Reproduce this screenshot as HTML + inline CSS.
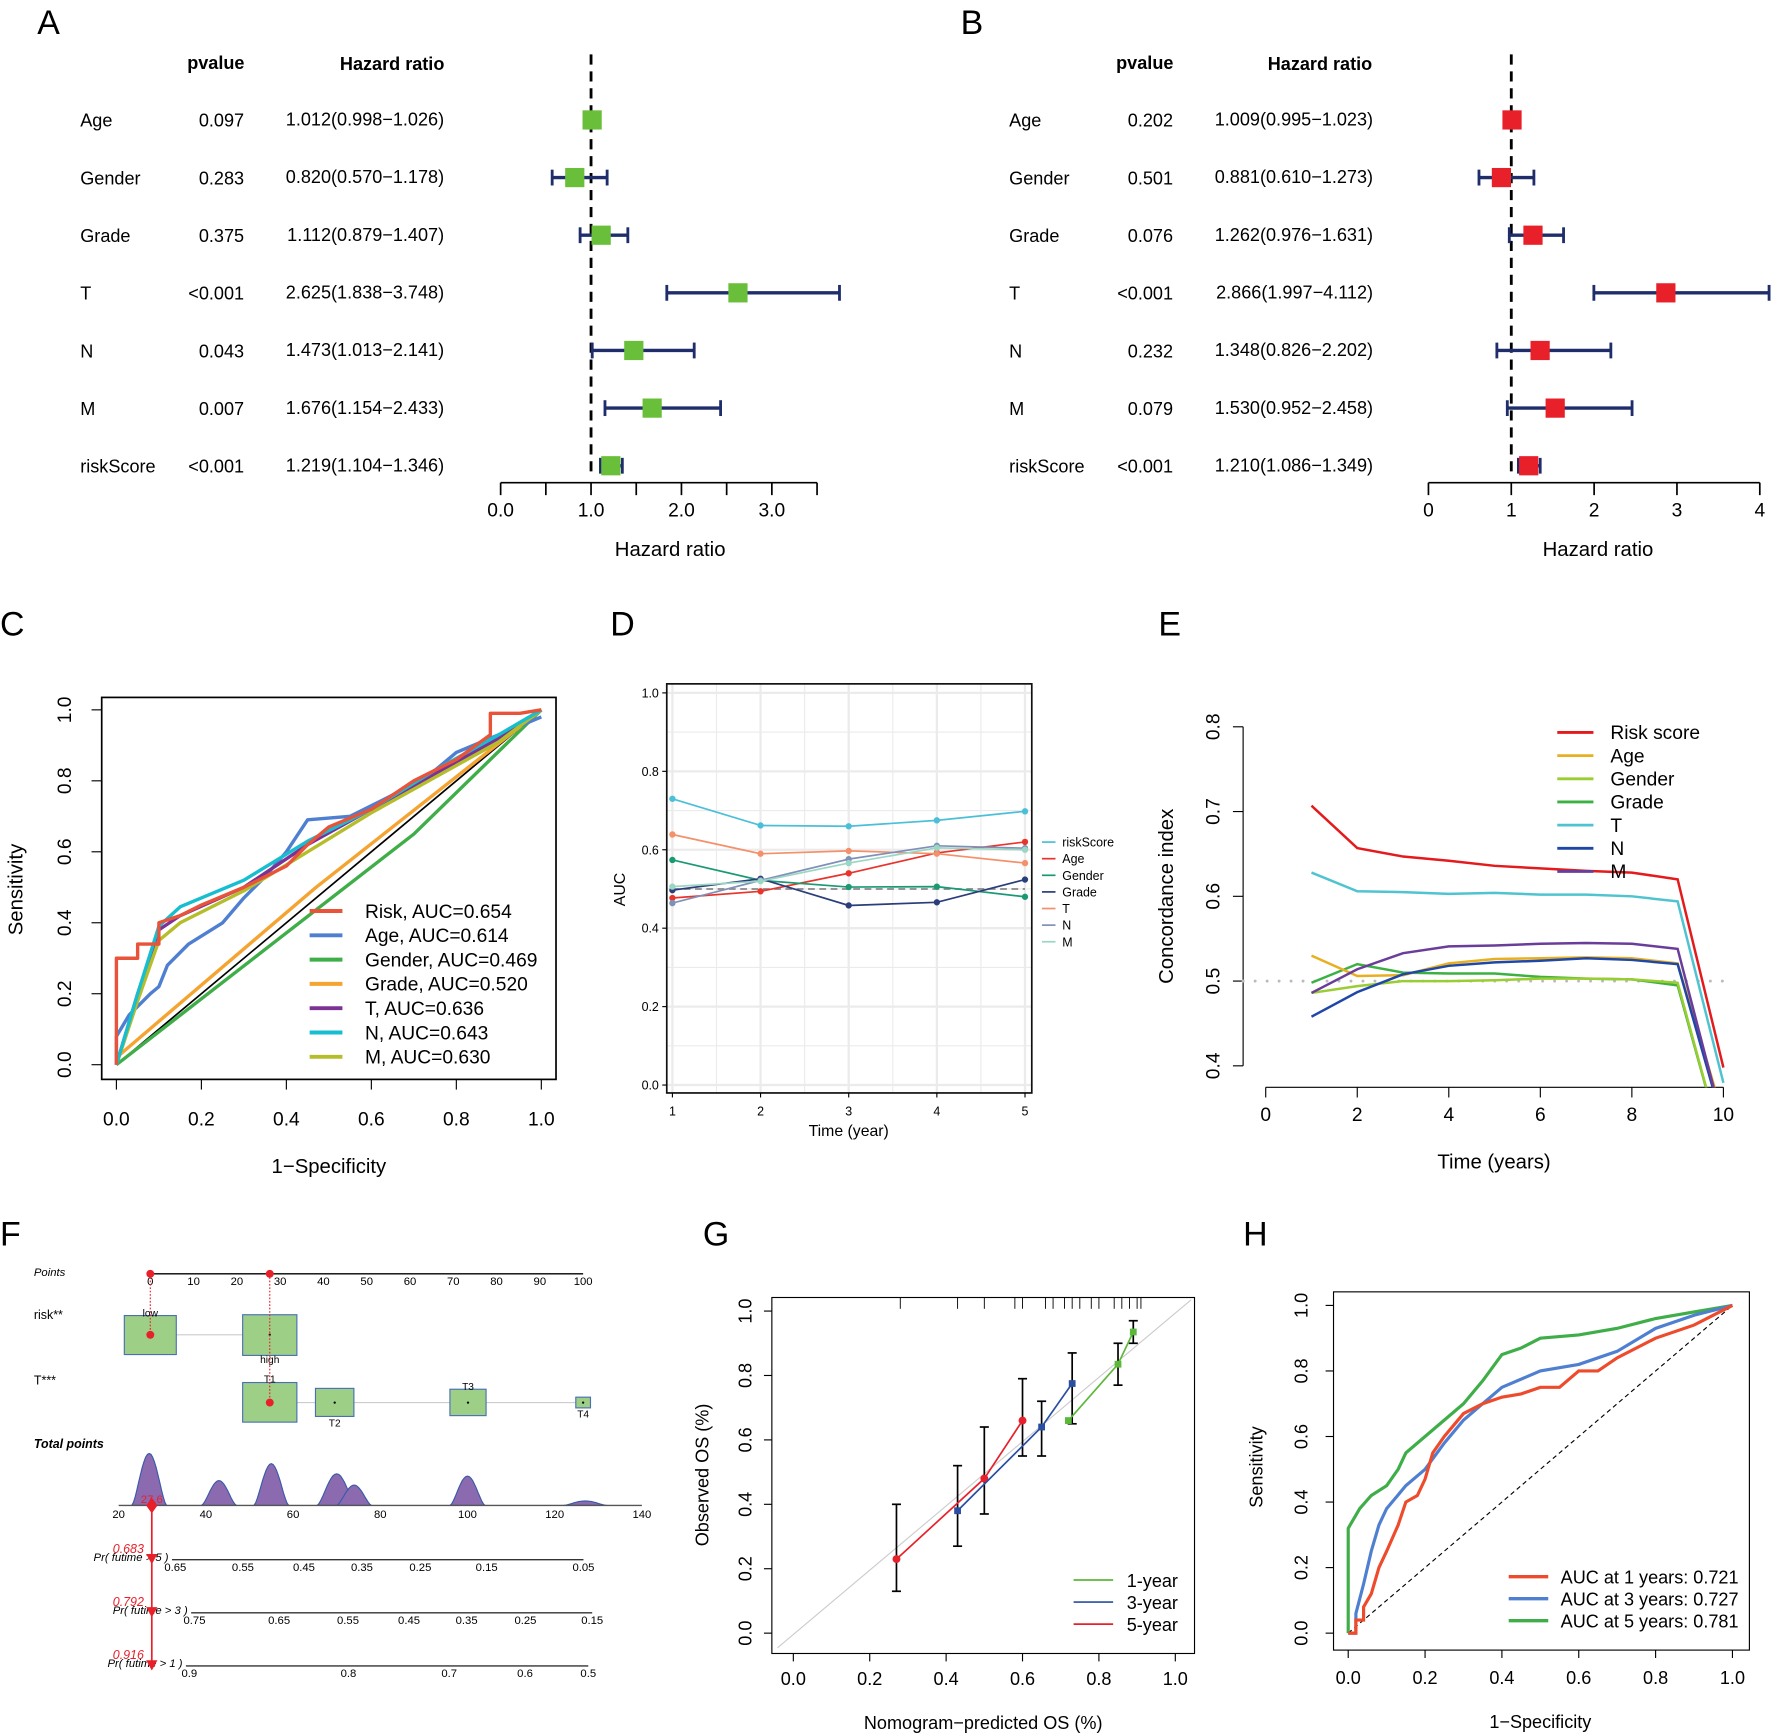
<!DOCTYPE html>
<html><head><meta charset="utf-8"><style>
html,body{margin:0;padding:0;background:#fff}
svg{display:block;font-family:"Liberation Sans",Arial,sans-serif}
</style></head><body>
<svg id="fig" width="1772" height="1735" viewBox="0 0 1568 1535" xmlns="http://www.w3.org/2000/svg">
<defs>
<clipPath id="clipE"><rect x="1090" y="600" width="478" height="362"/></clipPath>
<clipPath id="clipB"><rect x="1240" y="40" width="328" height="400"/></clipPath>
</defs>
<g font-size="30">
<text x="33" y="30">A</text>
<text x="850" y="30">B</text>
<text x="0" y="562">C</text>
<text x="540" y="562">D</text>
<text x="1025" y="562">E</text>
<text x="0" y="1102">F</text>
<text x="622" y="1102">G</text>
<text x="1100" y="1102">H</text>
</g>
<g id="pA"></g>
<g id="pB"></g>
<g id="pC"></g>
<g id="pD"></g>
<g id="pE"></g>
<g id="pF"></g>
<g id="pG"></g>
<g id="pH"></g>
</svg>
<script>
// ---------- data ----------
const forestVars = ["Age","Gender","Grade","T","N","M","riskScore"];
const forestAP = ["0.097","0.283","0.375","<0.001","0.043","0.007","<0.001"];
const forestAHR = [1.012,0.820,1.112,2.625,1.473,1.676,1.219];
const forestALo = [0.998,0.570,0.879,1.838,1.013,1.154,1.104];
const forestAHi = [1.026,1.178,1.407,3.748,2.141,2.433,1.346];
const forestBP = ["0.202","0.501","0.076","<0.001","0.232","0.079","<0.001"];
const forestBHR = [1.009,0.881,1.262,2.866,1.348,1.530,1.210];
const forestBLo = [0.995,0.610,0.976,1.997,0.826,0.952,1.086];
const forestBHi = [1.023,1.273,1.631,4.112,2.202,2.458,1.349];
const forestATicks = [0,0.5,1,1.5,2,2.5,3,3.5];
const forestATickLabels = ["0.0","1.0","2.0","3.0"];
const forestBTicks = [0,1,2,3,4];

const rocCNames = ["Risk, AUC=0.654","Age, AUC=0.614","Gender, AUC=0.469","Grade, AUC=0.520","T, AUC=0.636","N, AUC=0.643","M, AUC=0.630"];
const rocCRiskX = [0,0,0.05,0.05,0.1,0.1,0.15,0.2,0.3,0.4,0.45,0.5,0.6,0.7,0.8,0.88,0.88,0.95,1];
const rocCRiskY = [0,0.3,0.3,0.34,0.34,0.4,0.42,0.45,0.5,0.56,0.62,0.67,0.72,0.8,0.86,0.93,0.99,0.99,1];
const rocCAgeX = [0,0,0.03,0.08,0.1,0.12,0.17,0.25,0.3,0.35,0.4,0.45,0.55,0.65,0.75,0.8,0.9,1];
const rocCAgeY = [0,0.08,0.14,0.2,0.22,0.28,0.34,0.4,0.47,0.53,0.6,0.69,0.7,0.76,0.83,0.88,0.93,0.98];
const rocCGenderX = [0,0.7,1];
const rocCGenderY = [0,0.65,1];
const rocCGradeX = [0,0.47,1];
const rocCGradeY = [0.02,0.5,1];
const rocCTX = [0,0.05,0.1,0.15,0.3,0.45,0.6,0.75,0.9,1];
const rocCTY = [0,0.2,0.38,0.42,0.5,0.62,0.72,0.82,0.92,1];
const rocCNX = [0,0.05,0.1,0.15,0.3,0.45,0.6,0.75,0.9,1];
const rocCNY = [0,0.2,0.39,0.445,0.52,0.63,0.72,0.83,0.93,1];
const rocCMX = [0,0.05,0.1,0.15,0.3,0.45,0.6,0.75,0.9,1];
const rocCMY = [0,0.18,0.35,0.4,0.49,0.6,0.71,0.81,0.91,1];
const rocCTicks = [0,0.2,0.4,0.6,0.8,1.0];
const rocCTickLabels = ["0.0","0.2","0.4","0.6","0.8","1.0"];

const aucYears = [1,2,3,4,5];
const aucNames = ["riskScore","Age","Gender","Grade","T","N","M"];
const aucRisk = [0.73,0.662,0.660,0.675,0.698];
const aucAge = [0.477,0.494,0.540,0.592,0.620];
const aucGender = [0.574,0.522,0.505,0.506,0.480];
const aucGrade = [0.497,0.526,0.458,0.466,0.524];
const aucT = [0.639,0.590,0.597,0.590,0.566];
const aucN = [0.464,0.522,0.576,0.610,0.604];
const aucM = [0.506,0.520,0.566,0.605,0.600];
const aucYTicks = [0,0.2,0.4,0.6,0.8,1.0];
const aucYTickLabels = ["0.0","0.2","0.4","0.6","0.8","1.0"];

const ciTimes = [1,2,3,4,5,6,7,8,9,10];
const ciNames = ["Risk score","Age","Gender","Grade","T","N","M"];
const ciRisk = [0.707,0.657,0.647,0.642,0.636,0.633,0.630,0.628,0.620,0.398];
const ciAge = [0.530,0.506,0.507,0.521,0.526,0.527,0.528,0.527,0.521,0.34];
const ciGender = [0.486,0.494,0.500,0.500,0.501,0.503,0.503,0.502,0.498,0.30];
const ciGrade = [0.498,0.520,0.510,0.509,0.509,0.505,0.503,0.502,0.495,0.30];
const ciT = [0.628,0.606,0.605,0.603,0.604,0.602,0.602,0.600,0.594,0.38];
const ciN = [0.458,0.487,0.508,0.518,0.522,0.524,0.527,0.525,0.520,0.33];
const ciM = [0.486,0.514,0.533,0.541,0.542,0.544,0.545,0.544,0.538,0.33];
const ciXTicks = [0,2,4,6,8,10];
const ciYTicks = [0.4,0.5,0.6,0.7,0.8];

const nomoPointTicks = [0,10,20,30,40,50,60,70,80,90,100];
const nomoRiskLevels = ["low","high"];
const nomoRiskPts = [0,27.6];
const nomoRiskSize = [46,48];
const nomoTLevels = ["T1","T2","T3","T4"];
const nomoTPts = [27.6,42.6,73.4,100];
const nomoTSize = [48,34,32,13];
const nomoTotalTicks = [20,40,60,80,100,120,140];
const nomoDensCenters = [27,43,55,70,74,100,127];
const nomoDensHeights = [46,22,37,28,18,26,4];
const nomoDensWidths = [4,4,4,4.5,4,4,5];
const nomoTotal = 27.6;
const nomoPr5Labels = ["0.65","0.55","0.45","0.35","0.25","0.15","0.05"];
const nomoPr5Pts = [33,48.5,62.5,75.8,89.2,104.4,126.6];
const nomoPr3Labels = ["0.75","0.65","0.55","0.45","0.35","0.25","0.15"];
const nomoPr3Pts = [37.4,56.8,72.6,86.6,99.8,113.3,128.6];
const nomoPr1Labels = ["0.9","0.8","0.7","0.6","0.5"];
const nomoPr1Pts = [36.2,72.7,95.8,113.2,127.7];
const nomoPrTexts = ["0.683","0.792","0.916"];

const calNames = ["1-year","3-year","5-year"];
const cal1X = [0.72,0.85,0.89];
const cal1Y = [0.66,0.835,0.935];
const cal3X = [0.43,0.65,0.73];
const cal3Y = [0.38,0.64,0.775];
const cal5X = [0.27,0.50,0.60];
const cal5Y = [0.23,0.48,0.66];
const calErrX = [0.27,0.43,0.50,0.60,0.65,0.73,0.85,0.89];
const calErrLo = [0.13,0.27,0.37,0.55,0.55,0.65,0.77,0.90];
const calErrHi = [0.40,0.52,0.64,0.79,0.72,0.87,0.90,0.97];
const calRug = [0.28,0.43,0.5,0.58,0.6,0.66,0.68,0.71,0.73,0.75,0.78,0.8,0.84,0.86,0.88,0.9,0.91];
const calTicks = [0,0.2,0.4,0.6,0.8,1.0];
const calTickLabels = ["0.0","0.2","0.4","0.6","0.8","1.0"];

const rocHNames = ["AUC at 1 years: 0.721","AUC at 3 years: 0.727","AUC at 5 years: 0.781"];
const rocH1X = [0,0.02,0.02,0.04,0.04,0.06,0.08,0.1,0.13,0.15,0.18,0.2,0.22,0.25,0.3,0.35,0.4,0.45,0.5,0.55,0.6,0.65,0.7,0.8,0.9,1];
const rocH1Y = [0,0,0.04,0.04,0.08,0.12,0.2,0.25,0.33,0.4,0.42,0.47,0.55,0.6,0.67,0.7,0.72,0.73,0.75,0.75,0.8,0.8,0.84,0.9,0.94,1];
const rocH3X = [0,0.02,0.02,0.04,0.06,0.08,0.1,0.15,0.2,0.25,0.3,0.35,0.4,0.5,0.6,0.7,0.8,0.9,1];
const rocH3Y = [0,0,0.06,0.15,0.25,0.33,0.38,0.45,0.5,0.58,0.65,0.7,0.75,0.8,0.82,0.86,0.93,0.97,1];
const rocH5X = [0,0,0.03,0.06,0.1,0.13,0.15,0.2,0.25,0.3,0.35,0.4,0.45,0.5,0.6,0.7,0.8,0.9,1];
const rocH5Y = [0,0.32,0.38,0.42,0.45,0.5,0.55,0.6,0.65,0.7,0.77,0.85,0.87,0.9,0.91,0.93,0.96,0.98,1];

// ---------- helpers ----------
const NS="http://www.w3.org/2000/svg";
function mk(parent,tag,attrs,txt){const e=document.createElementNS(NS,tag);for(const k in attrs)e.setAttribute(k,attrs[k]);if(txt!==undefined)e.textContent=txt;parent.appendChild(e);return e;}
function lin(d0,d1,r0,r1){return v=>r0+(v-d0)*(r1-r0)/(d1-d0);}
function pts(xs,ys,sx,sy){return xs.map((x,i)=>sx(x).toFixed(1)+","+sy(ys[i]).toFixed(1)).join(" ");}

// ---------- forest plots ----------
function forest(g,o){
  const sx=lin(0,1,o.x0,o.x0+o.unit);
  const rowY=i=>106+i*51;
  let e;
  e=mk(g,"text",{x:o.pc,y:61,"text-anchor":"middle","font-size":16,"font-weight":"bold"},"pvalue");
  
  
  e=mk(g,"text",{x:o.hc,y:62,"text-anchor":"middle","font-size":16,"font-weight":"bold"},"Hazard ratio");
  
  
  e=mk(g,"line",{x1:sx(1),y1:48,x2:sx(1),y2:420,stroke:"#000","stroke-width":2.5,"stroke-dasharray":"9,6"});
  
  
  forestVars.forEach((v,i)=>{
    const y=rowY(i);
    let t=mk(g,"text",{x:o.lx,y:y+6,"font-size":16},v);
    
    
    t=mk(g,"text",{x:o.pr,y:y+6,"text-anchor":"end","font-size":16},o.p[i]);
    
    
    t=mk(g,"text",{x:o.hr,y:y+5,"text-anchor":"end","font-size":16},o.hrv[i].toFixed(3)+"("+o.lo[i].toFixed(3)+"\u2212"+o.hi[i].toFixed(3)+")");
    
    
    const cg=mk(g,"g",{"clip-path":o.clip||""});
    let l=mk(cg,"line",{x1:sx(o.lo[i]),y1:y,x2:sx(o.hi[i]),y2:y,stroke:"#1f2d6b","stroke-width":3});
    
    
    l=mk(cg,"line",{x1:sx(o.lo[i]),y1:y-7,x2:sx(o.lo[i]),y2:y+7,stroke:"#1f2d6b","stroke-width":2.5});
    
    
    l=mk(cg,"line",{x1:sx(o.hi[i]),y1:y-7,x2:sx(o.hi[i]),y2:y+7,stroke:"#1f2d6b","stroke-width":2.5});
    
    
    const r=mk(g,"rect",{x:sx(o.hrv[i])-8.5,y:y-8.5,width:17,height:17,fill:o.col});
    
    
  });
  e=mk(g,"line",{x1:sx(o.ticks[0]),y1:427,x2:sx(o.ticks[o.ticks.length-1]),y2:427,stroke:"#000","stroke-width":1.5});
  
  
  o.ticks.forEach(tk=>{
    const l=mk(g,"line",{x1:sx(tk),y1:427,x2:sx(tk),y2:438,stroke:"#000","stroke-width":1.5});
    
    
  });
  o.labels.forEach((lb,i)=>{
    const t=mk(g,"text",{x:sx(o.labVals[i]),y:457,"text-anchor":"middle","font-size":17},lb);
    
    
  });
  e=mk(g,"text",{x:o.titleX,y:492,"text-anchor":"middle","font-size":18},"Hazard ratio");
  
  
}
forest(document.getElementById("pA"),{x0:443,unit:80,lx:71,pc:191,pr:216,hc:347,hr:393,p:forestAP,hrv:forestAHR,lo:forestALo,hi:forestAHi,col:"#6abf3a",ticks:forestATicks,labels:forestATickLabels,labVals:[0,1,2,3],titleX:593});
forest(document.getElementById("pB"),{x0:1264,unit:73.3,lx:893,pc:1013,pr:1038,hc:1168,hr:1215,p:forestBP,hrv:forestBHR,lo:forestBLo,hi:forestBHi,col:"#e8202a",ticks:forestBTicks,labels:forestBTicks.map(String),labVals:forestBTicks,titleX:1414,clip:"url(#clipB)"});

// ---------- C: ROC ----------
(function(){
  const g=document.getElementById("pC");
  const sx=lin(0,1,103,479), sy=lin(0,1,942,628);
  let e=mk(g,"rect",{x:90,y:617,width:402,height:338,fill:"none",stroke:"#000","stroke-width":1.5});
  
  
  rocCTicks.forEach((tk,i)=>{
    let l=mk(g,"line",{x1:sx(tk),y1:955,x2:sx(tk),y2:964,stroke:"#000"});
    
    
    let t=mk(g,"text",{x:sx(tk),y:996,"text-anchor":"middle","font-size":17},rocCTickLabels[i]);
    
    
    l=mk(g,"line",{x1:81,y1:sy(tk),x2:90,y2:sy(tk),stroke:"#000"});
    
    
    t=mk(g,"text",{x:63,y:sy(tk),"text-anchor":"middle","font-size":17,transform:`rotate(-90 63 ${sy(tk)})`},rocCTickLabels[i]);
    
    
  });
  e=mk(g,"text",{x:291,y:1038,"text-anchor":"middle","font-size":18},"1\u2212Specificity");
  
  
  e=mk(g,"text",{x:20,y:787,"text-anchor":"middle","font-size":18,transform:"rotate(-90 20 787)"},"Sensitivity");
  
  
  e=mk(g,"line",{x1:sx(0),y1:sy(0),x2:sx(1),y2:sy(1),stroke:"#000","stroke-width":1.5});
  
  
  const cols=["#e8533a","#4f7fd0","#3fae49","#f5a431","#7b3294","#17becf","#b5bd2a"];
  const xs=[rocCRiskX,rocCAgeX,rocCGenderX,rocCGradeX,rocCTX,rocCNX,rocCMX];
  const ys=[rocCRiskY,rocCAgeY,rocCGenderY,rocCGradeY,rocCTY,rocCNY,rocCMY];
  const order=[2,3,1,4,6,5,0];
  order.forEach(i=>{
    const p=mk(g,"polyline",{points:pts(xs[i],ys[i],sx,sy),fill:"none",stroke:cols[i],"stroke-width":3,"stroke-linejoin":"round"});
    
    
  });
  rocCNames.forEach((n,i)=>{
    const y=806+i*21.5;
    const l=mk(g,"line",{x1:274,y1:y,x2:303,y2:y,stroke:cols[i],"stroke-width":3.5});
    
    
    const t=mk(g,"text",{x:323,y:y+6,"font-size":17},n);
    
    
  });
})();

// ---------- D: AUC over time ----------
(function(){
  const g=document.getElementById("pD");
  const sx=lin(1,5,595,907), sy=lin(0,1,960,613);
  let e;
  for(let v=0;v<=1.001;v+=0.1){const l=mk(g,"line",{x1:590,y1:sy(v),x2:913,y2:sy(v),stroke:"#ebebeb","stroke-width":Math.round(v*10)%2?1:2});}
  for(let v=1;v<=5.01;v+=0.5){const l=mk(g,"line",{x1:sx(v),y1:605,x2:sx(v),y2:967,stroke:"#ebebeb","stroke-width":v%1?1:2});}
  e=mk(g,"rect",{x:590,y:605,width:323,height:362,fill:"none",stroke:"#111","stroke-width":1.5});
  
  
  aucYTicks.forEach((tk,i)=>{
    const l=mk(g,"line",{x1:586,y1:sy(tk),x2:590,y2:sy(tk),stroke:"#000"});
    
    
    const t=mk(g,"text",{x:583,y:sy(tk)+4,"text-anchor":"end","font-size":11},aucYTickLabels[i]);
    
    
  });
  aucYears.forEach(yr=>{
    const l=mk(g,"line",{x1:sx(yr),y1:967,x2:sx(yr),y2:971,stroke:"#000"});
    
    
    const t=mk(g,"text",{x:sx(yr),y:987,"text-anchor":"middle","font-size":11},String(yr));
    
    
  });
  e=mk(g,"text",{x:751,y:1005,"text-anchor":"middle","font-size":14},"Time (year)");
  
  
  e=mk(g,"text",{x:553,y:787,"text-anchor":"middle","font-size":14,transform:"rotate(-90 553 787)"},"AUC");
  
  
  e=mk(g,"line",{x1:595,y1:sy(0.5),x2:907,y2:sy(0.5),stroke:"#888","stroke-width":1.5,"stroke-dasharray":"6,4"});
  
  
  const cols=["#4bbfd8","#e8342a","#1a9a74","#2b3d7a","#f4906a","#8090b8","#9ad6c4"];
  const series=[aucRisk,aucAge,aucGender,aucGrade,aucT,aucN,aucM];
  series.forEach((s,i)=>{
    const p=mk(g,"polyline",{points:pts(aucYears,s,sx,sy),fill:"none",stroke:cols[i],"stroke-width":1.5});
    
    
    s.forEach((v,j)=>{
      const c=mk(g,"circle",{cx:sx(aucYears[j]),cy:sy(v),r:2.8,fill:cols[i]});
      
      
    });
  });
  aucNames.forEach((n,i)=>{
    const y=745+i*14.7;
    const l=mk(g,"line",{x1:922,y1:y,x2:934,y2:y,stroke:cols[i],"stroke-width":1.5});
    
    
    const t=mk(g,"text",{x:940,y:y+4,"font-size":11},n);
    
    
  });
})();

// ---------- E: C-index ----------
(function(){
  const g=document.getElementById("pE");
  const sx=lin(0,10,1120,1525), sy=lin(0.4,0.8,943,643);
  let e=mk(g,"line",{x1:1100,y1:sy(0.4),x2:1100,y2:sy(0.8),stroke:"#000"});
  
  
  ciYTicks.forEach(tk=>{
    const l=mk(g,"line",{x1:1091,y1:sy(tk),x2:1100,y2:sy(tk),stroke:"#000"});
    
    
    const t=mk(g,"text",{x:1079,y:sy(tk),"text-anchor":"middle","font-size":17,transform:`rotate(-90 1079 ${sy(tk)})`},tk.toFixed(1));
    
    
  });
  e=mk(g,"line",{x1:sx(0),y1:962,x2:sx(10),y2:962,stroke:"#000"});
  
  
  ciXTicks.forEach(tk=>{
    const l=mk(g,"line",{x1:sx(tk),y1:962,x2:sx(tk),y2:971,stroke:"#000"});
    
    
    const t=mk(g,"text",{x:sx(tk),y:992,"text-anchor":"middle","font-size":17},String(tk));
    
    
  });
  e=mk(g,"text",{x:1322,y:1034,"text-anchor":"middle","font-size":18},"Time (years)");
  
  
  e=mk(g,"text",{x:1038,y:793,"text-anchor":"middle","font-size":18,transform:"rotate(-90 1038 793)"},"Concordance index");
  
  
  e=mk(g,"line",{x1:1100,y1:sy(0.5),x2:1525,y2:sy(0.5),stroke:"#bbb","stroke-width":2.5,"stroke-dasharray":"0.1,10.5","stroke-linecap":"round"});
  
  
  const cols=["#e41a1c","#e8b020","#9acd32","#3cb043","#4fc4d0","#1f47a8","#6a3d9a"];
  const series=[ciRisk,ciAge,ciGender,ciGrade,ciT,ciN,ciM];
  const cg=mk(g,"g",{"clip-path":"url(#clipE)"});
  [3,2,1,5,6,4,0].forEach(i=>{
    const p=mk(cg,"polyline",{points:pts(ciTimes,series[i],sx,sy),fill:"none",stroke:cols[i],"stroke-width":2.2});
    
    
  });
  ciNames.forEach((n,i)=>{
    const y=648+i*20.5;
    const l=mk(g,"line",{x1:1378,y1:y,x2:1410,y2:y,stroke:cols[i],"stroke-width":2.5});
    
    
    const t=mk(g,"text",{x:1425,y:y+6,"font-size":17},n);
    
    
  });
})();

// ---------- F: nomogram ----------
(function(){
  const g=document.getElementById("pF");
  const px=lin(0,100,133,516), tx=lin(20,140,105,568);
  let e;
  const lbl=(x,y,s,fs,extra)=>{const t=mk(g,"text",Object.assign({x:x,y:y,"font-size":fs},extra||{}),s);return t;};
  e=lbl(30,1129,"Points",10,{"font-style":"italic"});
  
  
  e=mk(g,"line",{x1:px(0),y1:1127,x2:px(100),y2:1127,stroke:"#000","stroke-width":1.2});
  
  
  nomoPointTicks.forEach(tk=>{
    const t=lbl(px(tk),1137,String(tk),10,{"text-anchor":"middle"});
    
    
  });
  e=lbl(30,1167,"risk**",11);
  
  
  e=lbl(30,1225,"T***",11);
  
  
  e=lbl(30,1281,"Total points",11,{"font-style":"italic","font-weight":"bold"});
  
  
  // risk row
  e=mk(g,"line",{x1:px(nomoRiskPts[0]),y1:1181,x2:px(nomoRiskPts[1]),y2:1181,stroke:"#ccc"});
  
  
  nomoRiskLevels.forEach((lv,i)=>{
    const cx=px(nomoRiskPts[i]), s=nomoRiskSize[i];
    const r=mk(g,"rect",{x:cx-s/2,y:1181-s*0.37,width:s,height:s*0.75,fill:"#9ecf86",stroke:"#4a6fb5","stroke-width":1});
    
    
    const t=lbl(cx,i===0?1165:1206,lv,9,{"text-anchor":"middle"});
    
    
    const c=mk(g,"circle",{cx:cx,cy:1181,r:1,fill:"#000"});
    
    
  });
  // T row
  e=mk(g,"line",{x1:px(nomoTPts[0]),y1:1241,x2:px(nomoTPts[3]),y2:1241,stroke:"#ccc"});
  
  
  nomoTLevels.forEach((lv,i)=>{
    const cx=px(nomoTPts[i]), s=nomoTSize[i];
    const r=mk(g,"rect",{x:cx-s/2,y:1241-s*0.37,width:s,height:s*0.73,fill:"#9ecf86",stroke:"#4a6fb5","stroke-width":1});
    
    
    const ly=[1223,1262,1230,1254][i];
    const t=lbl(cx,ly,lv,9,{"text-anchor":"middle"});
    
    
    const c=mk(g,"circle",{cx:cx,cy:1241,r:1,fill:"#000"});
    
    
  });
  // selected markers
  [[px(0),1181],[px(27.6),1241]].forEach(([x,y])=>{
    const l=mk(g,"line",{x1:x,y1:1127,x2:x,y2:y,stroke:"#e8202a","stroke-dasharray":"1.5,1.5"});
    
    
    let c=mk(g,"circle",{cx:x,cy:1127,r:3.5,fill:"#e8202a"});
    
    
    c=mk(g,"circle",{cx:x,cy:y,r:3.5,fill:"#e8202a"});
    
    
  });
  // densities
  nomoDensCenters.forEach((c,i)=>{
    const w=nomoDensWidths[i], h=nomoDensHeights[i];
    let d="M"+tx(c-w)+",1332 ";
    for(let k=0;k<=20;k++){const u=-1+k/10;const x=tx(c+u*w);const y=1332-h*Math.pow(Math.cos(u*Math.PI/2),1.5);d+="L"+x.toFixed(1)+","+y.toFixed(1)+" ";}
    d+="Z";
    const p=mk(g,"path",{d:d,fill:"#8b6aaf",stroke:"#3a5aa8","stroke-width":1});
    
    
  });
  e=mk(g,"line",{x1:tx(20),y1:1332,x2:tx(140),y2:1332,stroke:"#555","stroke-width":1.2});
  
  
  nomoTotalTicks.forEach(tk=>{
    const t=lbl(tx(tk),1343,String(tk),10,{"text-anchor":"middle"});
    
    
  });
  const X=tx(nomoTotal);
  e=mk(g,"line",{x1:X,y1:1332,x2:X,y2:1475,stroke:"#e8202a","stroke-width":1.5});
  
  
  e=mk(g,"path",{d:`M${X},1325 L${X+5},1332 L${X},1339 L${X-5},1332 Z`,fill:"#e8202a"});
  
  
  e=lbl(X,1330,String(nomoTotal),10,{"text-anchor":"middle",fill:"#e8202a"});
  
  
  const rows=[[1380,nomoPr5Labels,nomoPr5Pts,"Pr( futime > 5 )"],[1427,nomoPr3Labels,nomoPr3Pts,"Pr( futime > 3 )"],[1474,nomoPr1Labels,nomoPr1Pts,"Pr( futime > 1 )"]];
  rows.forEach((r,i)=>{
    const [y,labs,ps,name]=r;
    const l=mk(g,"line",{x1:tx(ps[0])-3,y1:y,x2:tx(ps[ps.length-1]),y2:y,stroke:"#333","stroke-width":1.2});
    
    
    labs.forEach((lb,j)=>{
      const t=lbl(tx(ps[j]),y+10,lb,10,{"text-anchor":"middle"});
      
      
    });
    let t=lbl(tx(ps[0])-6,y+1,name,10,{"text-anchor":"end","font-style":"italic"});
    
    
    t=lbl(X-7,y-6,nomoPrTexts[i],11,{"text-anchor":"end","font-style":"italic",fill:"#e8202a"});
    
    
    const tri=mk(g,"path",{d:`M${X-5},${y-5} L${X+5},${y-5} L${X},${y+4} Z`,fill:"#e8202a"});
    
    
  });
})();

// ---------- G: calibration ----------
(function(){
  const g=document.getElementById("pG");
  const sx=lin(0,1,702,1040), sy=lin(0,1,1445,1160);
  let e=mk(g,"rect",{x:683,y:1148,width:374,height:315,fill:"none",stroke:"#000","stroke-width":1});
  
  
  calTicks.forEach((tk,i)=>{
    let l=mk(g,"line",{x1:sx(tk),y1:1463,x2:sx(tk),y2:1470,stroke:"#000"});
    
    
    let t=mk(g,"text",{x:sx(tk),y:1491,"text-anchor":"middle","font-size":16},calTickLabels[i]);
    
    
    l=mk(g,"line",{x1:676,y1:sy(tk),x2:683,y2:sy(tk),stroke:"#000"});
    
    
    t=mk(g,"text",{x:665,y:sy(tk),"text-anchor":"middle","font-size":16,transform:`rotate(-90 665 ${sy(tk)})`},calTickLabels[i]);
    
    
  });
  e=mk(g,"text",{x:870,y:1530,"text-anchor":"middle","font-size":16},"Nomogram\u2212predicted OS (%)");
  
  
  e=mk(g,"text",{x:627,y:1305,"text-anchor":"middle","font-size":16,transform:"rotate(-90 627 1305)"},"Observed OS (%)");
  
  
  e=mk(g,"line",{x1:688,y1:1458,x2:1054,y2:1150,stroke:"#ccc","stroke-width":1});
  
  
  calRug.forEach(v=>{
    const l=mk(g,"line",{x1:sx(v),y1:1148,x2:sx(v),y2:1158,stroke:"#000","stroke-width":0.8});
    
    
  });
  calErrX.forEach((x,i)=>{
    let l=mk(g,"line",{x1:sx(x),y1:sy(calErrLo[i]),x2:sx(x),y2:sy(calErrHi[i]),stroke:"#000","stroke-width":1.5});
    
    
    [calErrLo[i],calErrHi[i]].forEach(v=>{
      const c=mk(g,"line",{x1:sx(x)-4,y1:sy(v),x2:sx(x)+4,y2:sy(v),stroke:"#000","stroke-width":1.5});
      
      
    });
  });
  const cols=["#5cb83a","#2a4fa0","#e8202a"];
  const xs=[cal1X,cal3X,cal5X], ys=[cal1Y,cal3Y,cal5Y];
  [2,1,0].forEach(i=>{
    const p=mk(g,"polyline",{points:pts(xs[i],ys[i],sx,sy),fill:"none",stroke:cols[i],"stroke-width":1.5});
    
    
    xs[i].forEach((x,j)=>{
      const m=i===2?mk(g,"circle",{cx:sx(x),cy:sy(ys[i][j]),r:3.5,fill:cols[i]}):mk(g,"rect",{x:sx(x)-3,y:sy(ys[i][j])-3,width:6,height:6,fill:cols[i]});
      
      
    });
  });
  calNames.forEach((n,i)=>{
    const y=1398+i*19.5;
    const l=mk(g,"line",{x1:950,y1:y,x2:985,y2:y,stroke:cols[i],"stroke-width":1.5});
    
    
    const t=mk(g,"text",{x:997,y:y+6,"font-size":16},n);
    
    
  });
})();

// ---------- H: time ROC ----------
(function(){
  const g=document.getElementById("pH");
  const sx=lin(0,1,1193,1533), sy=lin(0,1,1445,1155);
  let e=mk(g,"rect",{x:1180,y:1143,width:368,height:317,fill:"none",stroke:"#000","stroke-width":1});
  
  
  rocCTicks.forEach((tk,i)=>{
    let l=mk(g,"line",{x1:sx(tk),y1:1460,x2:sx(tk),y2:1467,stroke:"#000"});
    
    
    let t=mk(g,"text",{x:sx(tk),y:1490,"text-anchor":"middle","font-size":16},rocCTickLabels[i]);
    
    
    l=mk(g,"line",{x1:1173,y1:sy(tk),x2:1180,y2:sy(tk),stroke:"#000"});
    
    
    t=mk(g,"text",{x:1157,y:sy(tk),"text-anchor":"middle","font-size":16,transform:`rotate(-90 1157 ${sy(tk)})`},rocCTickLabels[i]);
    
    
  });
  e=mk(g,"text",{x:1363,y:1529,"text-anchor":"middle","font-size":16},"1\u2212Specificity");
  
  
  e=mk(g,"text",{x:1117,y:1298,"text-anchor":"middle","font-size":16,transform:"rotate(-90 1117 1298)"},"Sensitivity");
  
  
  e=mk(g,"line",{x1:sx(0),y1:sy(0),x2:sx(1),y2:sy(1),stroke:"#000","stroke-dasharray":"4,3"});
  
  
  const cols=["#ee4a2c","#4f7fd0","#3fae49"];
  const xs=[rocH1X,rocH3X,rocH5X], ys=[rocH1Y,rocH3Y,rocH5Y];
  [2,1,0].forEach(i=>{
    const p=mk(g,"polyline",{points:pts(xs[i],ys[i],sx,sy),fill:"none",stroke:cols[i],"stroke-width":2.8});
    
    
  });
  rocHNames.forEach((n,i)=>{
    const y=1395+i*19.5;
    const l=mk(g,"line",{x1:1335,y1:y,x2:1370,y2:y,stroke:cols[i],"stroke-width":3});
    
    
    const t=mk(g,"text",{x:1381,y:y+6,"font-size":16},n);
    
    
  });
})();
</script>
</body></html>
